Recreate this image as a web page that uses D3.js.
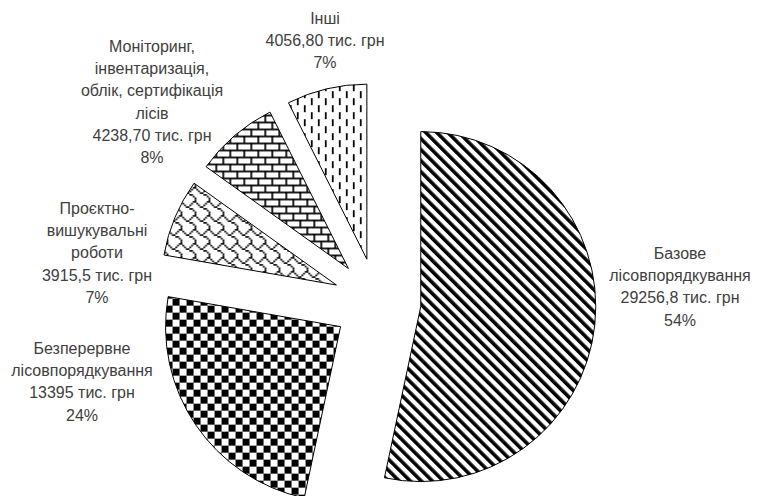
<!DOCTYPE html>
<html>
<head>
    <meta charset="utf-8">
    <script src="https://d3js.org/d3.v7.min.js"></script>
    <style>
        body {
            margin: 0;
            background: #fff;
        }
        .label {
            font-family: "Liberation Sans", Arial, sans-serif;
            font-size: 16px;
            fill: #404040;
        }
        .slice {
            stroke: #000;
            stroke-width: 1;
        }
    </style>
</head>
<body>
    <div id="chart"></div>
    <script>
        // data, clockwise from 12 o'clock
        const categories = [
            ["Базове", "лісовпорядкування"],
            ["Безперервне", "лісовпорядкування"],
            ["Проєктно-", "вишукувальні", "роботи"],
            ["Моніторинг,", "інвентаризація,", "облік, сертифікація", "лісів"],
            ["Інші"]
        ];
        const values = [29256.8, 13395, 3915.5, 4238.7, 4056.8];
        const valueLabels = ["29256,8", "13395", "3915,5", "4238,70", "4056,80"];
        const percentLabels = ["54%", "24%", "7%", "8%", "7%"];

        // layout
        const width = 758, height = 496;
        const cx = 377, cy = 302;
        const radius = 175;
        const explode = 44;
        const lineStep = 22.3;
        const patternIds = ["p-diag", "p-check", "p-shingle", "p-brick", "p-dash"];
        const labelPos = [
            {x: 680, y: 253},
            {x: 82, y: 348},
            {x: 97, y: 208},
            {x: 152, y: 46},
            {x: 325, y: 18}
        ];

        const svg = d3.select("#chart").append("svg")
            .attr("width", width)
            .attr("height", height);

        const defs = svg.append("defs");

        // wide downward diagonal
        const pd = defs.append("pattern")
            .attr("id", "p-diag")
            .attr("patternUnits", "userSpaceOnUse")
            .attr("width", 7.8).attr("height", 7.8)
            .attr("patternTransform", "rotate(-45)");
        pd.append("rect").attr("width", 7.8).attr("height", 7.8).attr("fill", "#fff");
        pd.append("rect").attr("width", 3.6).attr("height", 7.8).attr("fill", "#000");

        // large checker board
        const pc = defs.append("pattern")
            .attr("id", "p-check")
            .attr("patternUnits", "userSpaceOnUse")
            .attr("width", 14).attr("height", 14);
        pc.append("rect").attr("width", 14).attr("height", 14).attr("fill", "#fff");
        pc.append("rect").attr("width", 7).attr("height", 7).attr("fill", "#000");
        pc.append("rect").attr("x", 7).attr("y", 7).attr("width", 7).attr("height", 7).attr("fill", "#000");

        // horizontal brick
        const pb = defs.append("pattern")
            .attr("id", "p-brick")
            .attr("patternUnits", "userSpaceOnUse")
            .attr("width", 14).attr("height", 14);
        pb.append("rect").attr("width", 14).attr("height", 14).attr("fill", "#fff");
        pb.append("rect").attr("y", 0).attr("width", 14).attr("height", 1.75).attr("fill", "#000");
        pb.append("rect").attr("y", 7).attr("width", 14).attr("height", 1.75).attr("fill", "#000");
        pb.append("rect").attr("x", 0).attr("y", 0).attr("width", 1.75).attr("height", 7).attr("fill", "#000");
        pb.append("rect").attr("x", 7).attr("y", 7).attr("width", 1.75).attr("height", 7).attr("fill", "#000");

        // dashed vertical
        const pv = defs.append("pattern")
            .attr("id", "p-dash")
            .attr("patternUnits", "userSpaceOnUse")
            .attr("width", 14).attr("height", 14);
        pv.append("rect").attr("width", 14).attr("height", 14).attr("fill", "#fff");
        pv.append("rect").attr("x", 7).attr("y", 0).attr("width", 1.75).attr("height", 7).attr("fill", "#000");
        pv.append("rect").attr("x", 0).attr("y", 7).attr("width", 1.75).attr("height", 7).attr("fill", "#000");

        // shingle (8x8 bitmap scaled)
        const shingleRows = [0x03, 0x84, 0x48, 0x30, 0x0c, 0x02, 0x01, 0x01];
        const ps = defs.append("pattern")
            .attr("id", "p-shingle")
            .attr("patternUnits", "userSpaceOnUse")
            .attr("width", 14).attr("height", 14);
        ps.append("rect").attr("width", 14).attr("height", 14).attr("fill", "#fff");
        shingleRows.forEach((row, r) => {
            for (let c = 0; c < 8; c++) {
                if (row & (0x80 >> c)) {
                    ps.append("rect")
                        .attr("x", c * 1.75).attr("y", r * 1.75)
                        .attr("width", 1.75).attr("height", 1.75)
                        .attr("fill", "#000");
                }
            }
        });

        const pie = d3.pie().sort(null).value(d => d)
            .startAngle(0).endAngle(2 * Math.PI);
        const arcs = pie(values);
        const arc = d3.arc().innerRadius(0).outerRadius(radius);

        const g = svg.append("g")
            .attr("transform", `translate(${cx},${cy})`);

        g.selectAll(".slice")
            .data(arcs)
            .enter()
            .append("path")
            .attr("class", "slice")
            .attr("transform", d => {
                const a = (d.startAngle + d.endAngle) / 2;
                return `translate(${explode * Math.sin(a)},${-explode * Math.cos(a)})`;
            })
            .attr("fill", (d, i) => `url(#${patternIds[i]})`)
            .attr("d", arc);

        // labels
        const labels = svg.selectAll(".label")
            .data(categories)
            .enter()
            .append("text")
            .attr("class", "label")
            .attr("text-anchor", "middle");

        labels.each(function(d, i) {
            const lines = d.concat([valueLabels[i] + " тис. грн", percentLabels[i]]);
            const t = d3.select(this);
            lines.forEach((line, k) => {
                t.append("tspan")
                    .attr("x", labelPos[i].x)
                    .attr("y", labelPos[i].y + k * lineStep)
                    .attr("dy", "0.35em")
                    .text(line);
            });
        });
    </script>
</body>
</html>
